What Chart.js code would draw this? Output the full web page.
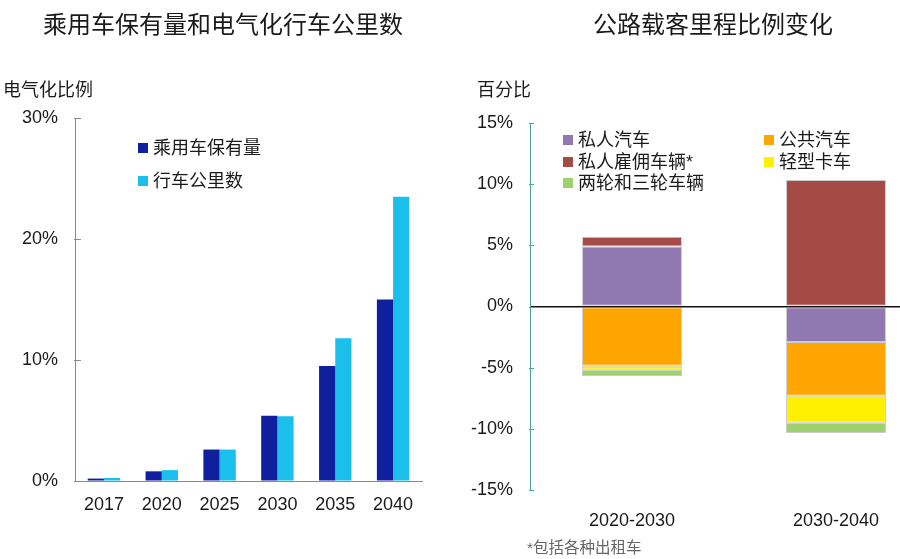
<!DOCTYPE html>
<html>
<head>
<meta charset="utf-8">
<script src="https://cdn.jsdelivr.net/npm/chart.js@4"></script>
<style>
  html, body { margin: 0; padding: 0; width: 900px; height: 559px; overflow: hidden; background: #fff; }
  body { position: relative; font-family: 'Liberation Sans', 'Noto Sans CJK SC', sans-serif; color: #1a1a1a; }
  .abs { position: absolute; white-space: nowrap; line-height: 1; }
  .title { font-size: 24px; }
  .unit { font-size: 18px; }
  .leg { position: absolute; font-size: 18px; line-height: 1; white-space: nowrap; }
  .leg i { position: absolute; width: 10px; height: 10px; left: 0; top: 4px; }
  .leg span { position: absolute; left: 15px; top: 0; }
  #c1 { position: absolute; left: 0; top: 0; }
  #c2 { position: absolute; left: 450px; top: 0; }
</style>
</head>
<body>
<canvas id="c1" width="450" height="559"></canvas>
<canvas id="c2" width="488" height="559"></canvas>

<div class="abs title" style="left:43px; top:13px;">乘用车保有量和电气化行车公里数</div>
<div class="abs unit" style="left:3px; top:81px;">电气化比例</div>
<div class="abs title" style="left:593px; top:13px;">公路载客里程比例变化</div>
<div class="abs unit" style="left:477px; top:81px;">百分比</div>
<div class="abs" style="left:527px; top:540px; font-size:15.5px; color:#666;">*包括各种出租车</div>
<div id="legend1"></div>
<div id="legend2"></div>

<script>
// ---------- Left chart data ----------
const years = ['2017', '2020', '2025', '2030', '2035', '2040'];
const fleetShare = [0.2, 0.8, 2.6, 5.4, 9.5, 15.0];      // 乘用车保有量
const vktShare = [0.25, 0.9, 2.6, 5.35, 11.8, 23.5];      // 行车公里数
const leftSeriesNames = ['乘用车保有量', '行车公里数'];
const leftTicks = [0, 10, 20, 30];

// ---------- Right chart data ----------
const periods = ['2020-2030', '2030-2040'];
const privateCar = [4.9, -2.9];       // 私人汽车
const privateHire = [0.8, 10.35];     // 私人雇佣车辆*
const bus = [-4.85, -4.4];            // 公共汽车
const lightTruck = [-0.33, -2.2];     // 轻型卡车
const twoThree = [-0.5, -0.85];       // 两轮和三轮车辆
const rightSeriesNames = ['私人汽车', '私人雇佣车辆*', '公共汽车', '轻型卡车', '两轮和三轮车辆'];
const rightTicks = [-15, -10, -5, 0, 5, 10, 15];

Chart.defaults.font.family = "'Liberation Sans', 'Noto Sans CJK SC', sans-serif";
Chart.defaults.color = '#1a1a1a';

const innerTicks = {
  id: 'innerTicks',
  afterDraw(chart, args, opts) {
    const s = chart.scales.y;
    const ctx = chart.ctx;
    ctx.save();
    ctx.strokeStyle = opts.color;
    ctx.lineWidth = 1;
    s.ticks.forEach(t => {
      const y = Math.round(s.getPixelForValue(t.value)) + 0.5;
      ctx.beginPath();
      ctx.moveTo(s.right - 1, y);
      ctx.lineTo(s.right + opts.len, y);
      ctx.stroke();
    });
    ctx.restore();
  }
};

// ---------- Left chart ----------
const leftColors = ['#0f1f9e', '#1bbfec'];
new Chart(document.getElementById('c1'), {
  type: 'bar',
  data: {
    labels: years,
    datasets: [
      { label: leftSeriesNames[0], data: fleetShare, backgroundColor: leftColors[0] },
      { label: leftSeriesNames[1], data: vktShare, backgroundColor: leftColors[1] }
    ]
  },
  options: {
    responsive: false,
    animation: false,
    layout: { padding: { left: 0, top: 118, right: 28, bottom: 38 } },
    categoryPercentage: 0.56,
    barPercentage: 1.0,
    plugins: { legend: { display: false }, tooltip: { enabled: false }, innerTicks: { color: '#8a8a8a', len: 6 } },
    scales: {
      x: {
        afterFit: s => { s.height = 40; },
        grid: { display: true, drawOnChartArea: false, drawTicks: false },
        border: { display: true, color: '#8a8a8a', width: 1 },
        ticks: { font: { size: 18 }, color: '#1a1a1a', padding: 13 }
      },
      y: {
        min: 0, max: 30,
        afterFit: s => { s.width = 75; },
        afterBuildTicks: s => { s.ticks = leftTicks.map(v => ({ value: v })); },
        grid: { display: true, drawOnChartArea: false, drawTicks: false },
        border: { display: true, color: '#8a8a8a', width: 1 },
        ticks: { font: { size: 18 }, color: '#1a1a1a', padding: 17, callback: v => v + '%' }
      }
    }
  },
  plugins: [innerTicks]
});

// ---------- Right chart ----------
const rightColors = ['#9079b1', '#a54b45', '#ffa500', '#fff000', '#9dd06e'];
const rightData = [privateCar, privateHire, bus, lightTruck, twoThree];
new Chart(document.getElementById('c2'), {
  type: 'bar',
  data: {
    labels: periods,
    datasets: rightData.map((d, i) => ({
      label: rightSeriesNames[i], data: d, backgroundColor: rightColors[i],
      borderColor: 'rgba(110,110,110,0.35)', borderWidth: 1, borderSkipped: false
    }))
  },
  options: {
    responsive: false,
    animation: false,
    layout: { padding: { left: 0, top: 123, right: 0, bottom: 29 } },
    categoryPercentage: 0.49,
    barPercentage: 1.0,
    plugins: { legend: { display: false }, tooltip: { enabled: false }, innerTicks: { color: '#4aa39f', len: 4 } },
    scales: {
      x: {
        stacked: true,
        afterFit: s => { s.height = 40; },
        grid: { display: false },
        border: { display: false },
        ticks: { font: { size: 18 }, color: '#1a1a1a', padding: 12 }
      },
      y: {
        stacked: true,
        min: -15, max: 15,
        afterFit: s => { s.width = 80; },
        afterBuildTicks: s => { s.ticks = rightTicks.map(v => ({ value: v })); },
        grid: {
          display: true, drawTicks: false,
          color: c => (c.tick && c.tick.value === 0) ? '#111' : 'rgba(0,0,0,0)',
          lineWidth: c => (c.tick && c.tick.value === 0) ? 1.5 : 0
        },
        border: { display: true, color: '#4aa39f', width: 1 },
        ticks: { font: { size: 18 }, color: '#1a1a1a', padding: 17, callback: v => v + '%' }
      }
    }
  },
  plugins: [innerTicks]
});

// ---------- HTML legends ----------
function addLegend(containerId, names, colors, positions) {
  const c = document.getElementById(containerId);
  names.forEach((n, i) => {
    const d = document.createElement('div');
    d.className = 'leg';
    d.style.left = positions[i][0] + 'px';
    d.style.top = positions[i][1] + 'px';
    d.innerHTML = '<i style="background:' + colors[i] + '"></i><span>' + n + '</span>';
    c.appendChild(d);
  });
}
addLegend('legend1', leftSeriesNames, leftColors, [[138, 139], [138, 172]]);
// order in legend: 私人汽车, 私人雇佣车辆*, 公共汽车, 轻型卡车, 两轮和三轮车辆
addLegend('legend2', rightSeriesNames, rightColors, [[563, 131], [563, 153], [764, 131], [764, 153], [563, 174]]);
</script>
</body>
</html>
